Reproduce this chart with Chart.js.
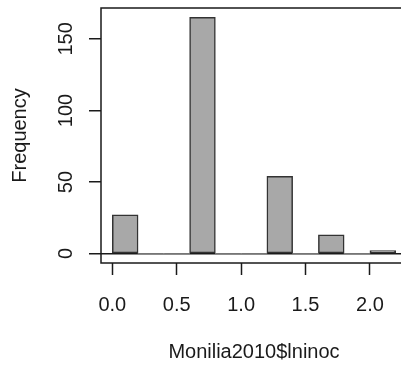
<!DOCTYPE html>
<html>
<head>
<meta charset="utf-8">
<script src="https://cdn.jsdelivr.net/npm/chart.js@4"></script>
<style>
  html, body { margin: 0; padding: 0; background: #fff; overflow: hidden; }
  .wrap { width: 408px; height: 365px; }
</style>
</head>
<body>
<div class="wrap"><canvas id="histChart" width="408" height="365"></canvas></div>
<script>
// histogram of Monilia2010$lninoc
const binEdges = [0, 0.2, 0.4, 0.6, 0.8, 1.0, 1.2, 1.4, 1.6, 1.8, 2.0, 2.2];
const counts = [27, 0, 0, 165, 0, 0, 54, 0, 13, 0, 2];
const xTicks = [0, 0.5, 1.0, 1.5, 2.0];
const yTicks = [0, 50, 100, 150];

const points = counts.map(function (c, i) {
  return { x: (binEdges[i] + binEdges[i + 1]) / 2, y: c };
});

const ink = "#1a1a1a";
const font = { family: "Liberation Sans", size: 20 };

// box round the plot region, like R's box()
const boxPlugin = {
  id: "plotBox",
  afterDraw: function (chart) {
    const a = chart.chartArea;
    const ctx = chart.ctx;
    ctx.save();
    ctx.strokeStyle = ink;
    ctx.lineWidth = 1.5;
    ctx.strokeRect(a.left, a.top, a.right - a.left, a.bottom - a.top);
    ctx.restore();
  },
};

const ctx = document.getElementById("histChart").getContext("2d");

new Chart(ctx, {
  type: "bar",
  data: {
    datasets: [
      {
        data: points,
        backgroundColor: "#a8a8a8",
        borderColor: "#333",
        borderWidth: function (c) {
          return c.raw && c.raw.y > 0 ? 1.5 : 0;
        },
        borderSkipped: false,
        barPercentage: 1,
        categoryPercentage: 1,
      },
    ],
  },
  options: {
    responsive: false,
    animation: false,
    devicePixelRatio: 1,
    layout: { padding: { left: 0, right: 1, top: 8, bottom: 0 } },
    plugins: {
      legend: { display: false },
      tooltip: { enabled: false },
    },
    scales: {
      x: {
        type: "linear",
        offset: false,
        min: -0.088,
        max: 2.288,
        border: { display: false },
        grid: {
          offset: false,
          drawOnChartArea: false,
          drawTicks: true,
          tickLength: 12,
          tickColor: ink,
          tickWidth: 1.5,
        },
        afterBuildTicks: function (scale) {
          scale.ticks = xTicks.map(function (v) { return { value: v }; });
        },
        afterFit: function (scale) {
          scale.height = 102;
          scale.paddingLeft = 0;
          scale.paddingRight = 0;
        },
        ticks: {
          font: font,
          color: ink,
          padding: 18,
          maxRotation: 0,
          callback: function (v) { return Number(v).toFixed(1); },
        },
        title: {
          display: true,
          text: "Monilia2010$lninoc",
          font: font,
          color: ink,
          padding: { top: 0, bottom: 1 },
        },
      },
      y: {
        min: -6.6,
        max: 171.6,
        border: { display: false },
        grid: {
          color: function (c) {
            return c.tick && c.tick.value === 0 ? ink : "rgba(0,0,0,0)";
          },
          lineWidth: 1.5,
          tickLength: 12,
          tickColor: ink,
          tickWidth: 1.5,
        },
        afterBuildTicks: function (scale) {
          scale.ticks = yTicks.map(function (v) { return { value: v }; });
        },
        afterFit: function (scale) {
          scale.width = 101;
          scale.paddingTop = 0;
          scale.paddingBottom = 0;
        },
        ticks: {
          font: font,
          color: ink,
          padding: 6,
          minRotation: 90,
          maxRotation: 90,
          crossAlign: "center",
        },
        title: {
          display: true,
          text: "Frequency",
          font: font,
          color: ink,
          padding: { top: 8, bottom: 0 },
        },
      },
    },
  },
  plugins: [boxPlugin],
});
</script>
</body>
</html>
